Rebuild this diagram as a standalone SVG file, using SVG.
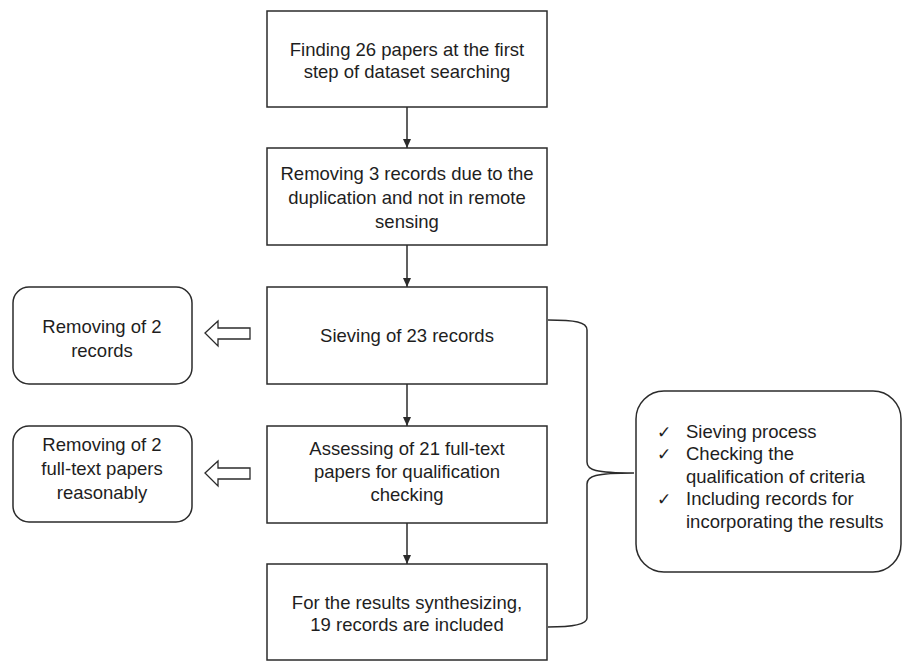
<svg xmlns="http://www.w3.org/2000/svg" width="903" height="661" viewBox="0 0 903 661">
<style>
.box{fill:#fff;stroke:#2b2b2b;stroke-width:1.5}
.t{font-family:"Liberation Sans",Arial,sans-serif;font-size:18.5px;fill:#1e1e1e;text-anchor:middle}
.l{font-family:"Liberation Sans",Arial,sans-serif;font-size:18.5px;fill:#1e1e1e}
.ck{font-family:"DejaVu Sans",sans-serif;font-size:17px;fill:#1e1e1e}
.ln{fill:none;stroke:#2b2b2b;stroke-width:1.5}
.blk{fill:#fff;stroke:#2b2b2b;stroke-width:1.3}
</style>
<defs>
<marker id="ah" markerWidth="10" markerHeight="10" refX="9" refY="5" orient="auto" markerUnits="userSpaceOnUse">
<path d="M0,1 L9,5 L0,9 Z" fill="#2b2b2b"/>
</marker>
</defs>
<rect width="903" height="661" fill="#fff"/>
<g id="connectors">
<line class="ln" x1="407" y1="107" x2="407" y2="148" marker-end="url(#ah)"/>
<line class="ln" x1="407" y1="245" x2="407" y2="287" marker-end="url(#ah)"/>
<line class="ln" x1="407" y1="384" x2="407" y2="426" marker-end="url(#ah)"/>
<line class="ln" x1="407" y1="523" x2="407" y2="564" marker-end="url(#ah)"/>
<polygon class="blk" points="205,333 218,321 218,328 250,328 250,339 218,339 218,346"/>
<polygon class="blk" points="205,473 218,461 218,468 250,468 250,479 218,479 218,486"/>
<path class="ln" d="M548,320 C575,320 587,322 587,330 L587,462 C587,470 595,473 634,473 C595,473 587,476 587,484 L587,618 C587,624 575,627 548,627"/>
</g>
<g id="n1">
<rect class="box" x="267" y="11" width="280" height="96"/>
<text class="t" x="407" y="56">Finding 26 papers at the first</text>
<text class="t" x="407" y="78">step of dataset searching</text>
</g>
<g id="n2">
<rect class="box" x="267" y="148" width="280" height="97"/>
<text class="t" x="407" y="180">Removing 3 records due to the</text>
<text class="t" x="407" y="204">duplication and not in remote</text>
<text class="t" x="407" y="228">sensing</text>
</g>
<g id="n3">
<rect class="box" x="267" y="287" width="280" height="97"/>
<text class="t" x="407" y="342">Sieving of 23 records</text>
</g>
<g id="n4">
<rect class="box" x="267" y="426" width="280" height="97"/>
<text class="t" x="407" y="455">Assessing of 21 full-text</text>
<text class="t" x="407" y="478">papers for qualification</text>
<text class="t" x="407" y="501">checking</text>
</g>
<g id="n5">
<rect class="box" x="267" y="564" width="280" height="96"/>
<text class="t" x="407" y="609">For the results synthesizing,</text>
<text class="t" x="407" y="631">19 records are included</text>
</g>
<g id="l1">
<rect class="box" x="13" y="287" width="179" height="97" rx="16" ry="16"/>
<text class="t" x="102" y="333">Removing of 2</text>
<text class="t" x="102" y="357">records</text>
</g>
<g id="l2">
<rect class="box" x="13" y="426" width="179" height="96" rx="16" ry="16"/>
<text class="t" x="102" y="451">Removing of 2</text>
<text class="t" x="102" y="475">full-text papers</text>
<text class="t" x="102" y="499">reasonably</text>
</g>
<g id="r1">
<rect class="box" x="636" y="391" width="265" height="181" rx="28" ry="28"/>
<text class="ck" x="657" y="438">✓</text>
<text class="l" x="686" y="438">Sieving process</text>
<text class="ck" x="657" y="460">✓</text>
<text class="l" x="686" y="460">Checking the</text>
<text class="l" x="686" y="483">qualification of criteria</text>
<text class="ck" x="657" y="505">✓</text>
<text class="l" x="686" y="505">Including records for</text>
<text class="l" x="686" y="528">incorporating the results</text>
</g>
</svg>
